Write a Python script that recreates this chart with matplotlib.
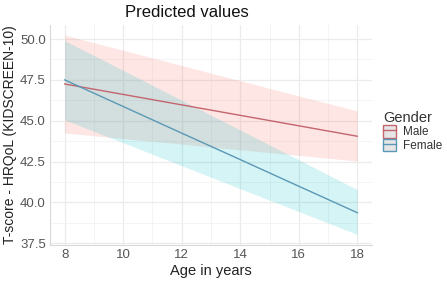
import matplotlib.pyplot as plt
import numpy as np
from matplotlib.patches import Patch
from matplotlib.lines import Line2D

plt.rcParams['font.family'] = ['Liberation Sans', 'DejaVu Sans']

age = [8, 10, 12, 14, 16, 18]

male_fit = [47.25, 46.61, 45.97, 45.33, 44.69, 44.05]
male_lo = [44.25, 43.91, 43.57, 43.22, 42.88, 42.53]
male_hi = [50.24, 49.31, 48.38, 47.45, 46.52, 45.60]

female_fit = [47.50, 45.87, 44.24, 42.62, 40.99, 39.37]
female_lo = [45.05, 43.65, 42.25, 40.84, 39.44, 38.04]
female_hi = [49.90, 48.08, 46.26, 44.43, 42.61, 40.78]

groups = ["Male", "Female"]
fill_cols = ["#F8766D", "#00BFC4"]
line_cols = ["#C4656E", "#5A98B6"]

fig = plt.figure(figsize=(4.47, 2.81), dpi=100)
ax = fig.add_axes([0.112, 0.128, 0.72, 0.783])

ax.fill_between(age, male_lo, male_hi, color=fill_cols[0], alpha=0.18, lw=0)
ax.fill_between(age, female_lo, female_hi, color=fill_cols[1], alpha=0.17, lw=0)
ax.plot(age, male_fit, color=line_cols[0], lw=1.0)
ax.plot(age, female_fit, color=line_cols[1], lw=1.0)

ax.set_xlim(7.5, 18.5)
ax.set_ylim(37.39, 50.86)
ax.set_xticks([8, 10, 12, 14, 16, 18])
ax.set_yticks([37.5, 40.0, 42.5, 45.0, 47.5, 50.0])
ax.set_yticklabels(["37.5", "40.0", "42.5", "45.0", "47.5", "50.0"])
ax.set_xticks(np.arange(9, 18, 2), minor=True)
ax.set_yticks([38.75, 41.25, 43.75, 46.25, 48.75], minor=True)
ax.grid(True, which='major', color='#EBEBEB', lw=0.9)
ax.grid(True, which='minor', color='#F2F2F2', lw=0.6)
ax.set_axisbelow(True)
ax.tick_params(which='both', length=0, labelsize=9.5, colors='#555555', pad=3)
for s in ['top', 'right']:
    ax.spines[s].set_visible(False)
for s in ['left', 'bottom']:
    ax.spines[s].set_color('#D9D9D9')
    ax.spines[s].set_linewidth(0.8)

ax.set_xlabel("Age in years", fontsize=10.5, color='#222222', labelpad=2)
ax.set_ylabel("T-score - HRQoL (KIDSCREEN-10)", fontsize=10, color='#222222', labelpad=2)
fig.text(0.417, 0.955, "Predicted values", ha='center', va='center', fontsize=12, color='#111111')

handles = []
for fc, lc in zip(fill_cols, line_cols):
    handles.append((Patch(facecolor='#E6E6E6', edgecolor=lc, lw=1.0),
                    Line2D([], [], color=lc, lw=1.0)))
leg = fig.legend(handles, groups, loc='upper left', bbox_to_anchor=(0.852, 0.615),
                 frameon=False, fontsize=8.5, title="Gender", title_fontsize=10.5,
                 handlelength=1.05, handleheight=1.25, handletextpad=0.6,
                 labelspacing=0.05, borderpad=0.2, borderaxespad=0)
leg._legend_box.align = "left"
for t in leg.get_texts():
    t.set_color('#333333')
leg.get_title().set_color('#333333')

fig.savefig("out.png", dpi=100)
